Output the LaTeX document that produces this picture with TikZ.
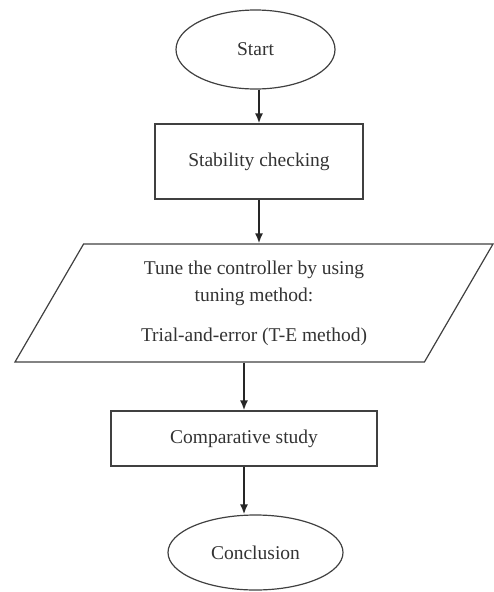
\documentclass[tikz,border=0pt]{standalone}
\usepackage{fontspec}
\setmainfont{Liberation Serif}
\usetikzlibrary{shapes.geometric,arrows.meta}
\begin{document}
\begin{tikzpicture}[x=1pt,y=-1pt,
  txt/.style={font=\fontsize{19.5}{27}\selectfont,text=black!80},
  oval/.style={ellipse,draw=black!75,line width=1.2pt,inner sep=0pt,txt},
  box/.style={rectangle,draw=black!75,line width=1.2pt,inner sep=0pt,txt},
  slant/.style={trapezium,trapezium left angle=51,trapezium right angle=129,
    trapezium stretches body,draw=black!75,line width=1.2pt,inner sep=0pt,align=center,txt},
  arr/.style={-{Latex[length=10pt,width=8pt]},line width=1.8pt,black!85}]
\useasboundingbox (0,0) rectangle (494,592);
\node[oval,minimum width=159pt,minimum height=79pt] (start) at (255.5,49.5) {Start};
\node[box,minimum width=208pt,minimum height=75pt] (stab) at (259,161.5) {Stability checking};
\node[slant,minimum width=478pt,minimum height=118pt] (tune) at (254,303)
  {Tune the controller by using\\tuning method:\\[13pt]Trial-and-error (T-E method)};
\node[box,minimum width=266pt,minimum height=55pt] (comp) at (244,438.5) {Comparative study};
\node[oval,minimum width=175pt,minimum height=75pt] (concl) at (255.5,552.5) {Conclusion};
% connectors
\draw[arr] (start.south -| stab.north) -- (stab.north);
\draw[arr] (stab.south) -- (stab.south |- tune.north);
\draw[arr] (tune.south -| comp.north) -- (comp.north);
\draw[arr] (comp.south) -- (comp.south |- concl.north);
\end{tikzpicture}
\end{document}
